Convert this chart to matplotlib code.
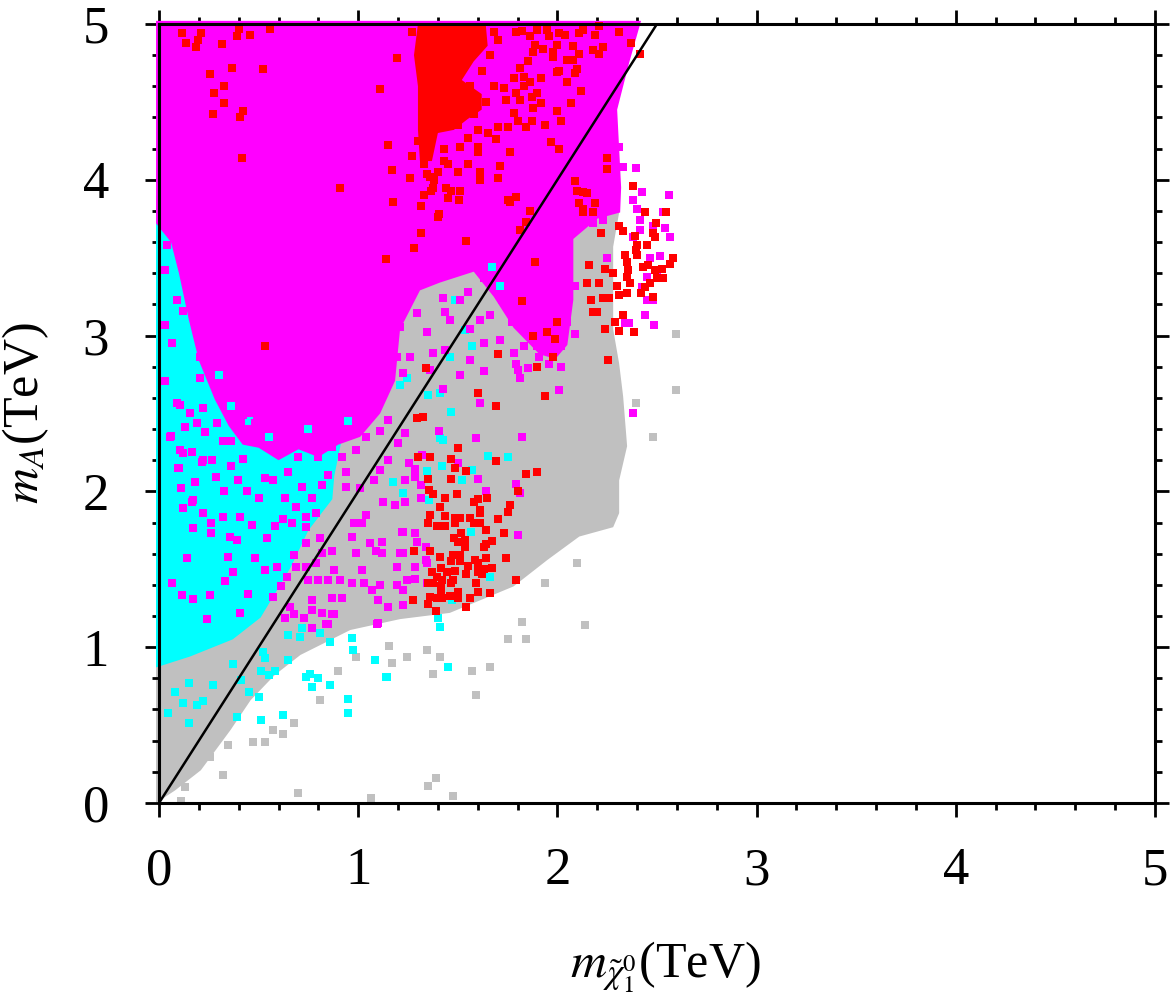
import numpy as np
import matplotlib
matplotlib.use("Agg")
import matplotlib.pyplot as plt

plt.rcParams['font.family'] = ['Liberation Serif', 'DejaVu Serif']
plt.rcParams['mathtext.fontset'] = 'stix'

# reference line m_A = 2 m_chi
line_x = [0.0, 2.5]
line_y = [0.0, 5.0]

# dense regions (outline of the densely covered area, TeV)
gray_region = [(-0.015, 0.0), (0.08, 0.08), (0.21, 0.21), (0.36, 0.47), (0.46, 0.66),
               (0.58, 0.82), (0.71, 0.95), (0.96, 1.11), (1.21, 1.18), (1.46, 1.22),
               (1.78, 1.39), (1.95, 1.56), (2.11, 1.71), (2.28, 1.77), (2.31, 1.86),
               (2.31, 2.07), (2.35, 2.29), (2.33, 2.61), (2.31, 2.82), (2.28, 3.04),
               (2.28, 3.57), (2.31, 3.79), (2.21, 3.87), (1.2, 3.6), (0.5, 3.8),
               (-0.015, 3.9)]
cyan_region = [(-0.015, 3.82), (0.15, 3.8), (0.3, 3.5), (0.45, 3.0), (0.7, 2.85),
               (0.95, 2.75), (1.0, 2.55), (0.92, 2.35), (0.88, 2.1), (0.87, 1.95),
               (0.75, 1.75), (0.66, 1.51), (0.51, 1.19), (0.37, 1.05), (0.156, 0.94),
               (-0.015, 0.87)]
magenta_region = [(-0.015, 5.02), (2.42, 5.02), (2.36, 4.75), (2.30, 4.45), (2.31, 4.20),
                  (2.32, 3.95), (2.315, 3.79), (2.20, 3.75), (2.08, 3.62), (2.08, 3.23),
                  (2.05, 2.94), (1.99, 2.85), (1.91, 2.88), (1.78, 3.05), (1.68, 3.25),
                  (1.58, 3.41), (1.41, 3.34), (1.31, 3.29), (1.21, 3.04),
                  (1.185, 2.71), (1.11, 2.50), (1.01, 2.35), (0.90, 2.30), (0.80, 2.22),
                  (0.70, 2.27), (0.60, 2.20), (0.50, 2.28), (0.42, 2.30), (0.35, 2.42),
                  (0.28, 2.59), (0.20, 2.84), (0.15, 3.10), (0.10, 3.40), (0.06, 3.60),
                  (-0.015, 3.72)]
red_region = [(1.30, 5.0), (1.64, 5.0), (1.65, 4.86), (1.58, 4.76), (1.52, 4.64),
              (1.62, 4.55), (1.62, 4.45), (1.55, 4.39), (1.48, 4.32), (1.40, 4.30),
              (1.37, 4.12), (1.31, 4.12), (1.30, 4.32), (1.30, 4.60), (1.28, 4.80)]

# individual points outside / on top of the dense areas
gray_pts = [(0.70, 0.065), (1.065, 0.03), (1.39, 0.16), (1.35, 0.11), (1.475, 0.045),
            (0.32, 0.18), (0.16, 0.205), (0.13, 0.10), (0.11, 0.01), (0.345, 0.37),
            (0.255, 0.295), (0.47, 0.39), (0.53, 0.39), (0.62, 0.44), (0.57, 0.47),
            (0.68, 0.51), (0.81, 0.66), (0.90, 0.85), (0.99, 0.94), (1.155, 1.01),
            (1.17, 0.90), (1.245, 0.94), (1.375, 0.83), (1.345, 0.98), (1.41, 0.94),
            (1.59, 0.69), (1.57, 0.85), (1.66, 0.87), (2.14, 1.14), (1.82, 1.16),
            (1.84, 1.05), (1.75, 1.05), (1.94, 1.41), (2.10, 1.54), (2.48, 2.35),
            (2.395, 2.57), (2.595, 3.01), (2.595, 2.65)]

cyan_pts = [(0.71, 1.065), (0.86, 1.03), (0.97, 1.06), (0.975, 0.98), (1.085, 0.92),
            (1.145, 0.81), (0.95, 0.67), (0.95, 0.58), (0.86, 0.76), (0.77, 0.745),
            (0.74, 0.81), (0.80, 0.80), (0.76, 0.83), (0.65, 0.92), (0.58, 0.85),
            (0.55, 0.82), (0.51, 0.85), (0.45, 0.71), (0.50, 0.68), (0.51, 0.53),
            (0.39, 0.55), (0.62, 0.565), (0.37, 0.89), (0.41, 0.79), (0.27, 0.76),
            (0.22, 0.655), (0.15, 0.77), (0.15, 0.51), (0.045, 0.58), (0.08, 0.71),
            (0.12, 0.64), (0.19, 0.63), (0.52, 0.97), (0.53, 0.93), (0.65, 1.08),
            (0.72, 1.12), (0.81, 1.09), (1.41, 2.34), (1.65, 2.23), (1.75, 2.22),
            (1.57, 2.14), (1.52, 2.07), (1.41, 1.13), (1.47, 1.30), (1.45, 0.87),
            (1.14, 0.81), (1.465, 2.51), (1.345, 2.13), (1.355, 1.945), (1.565, 1.74),
            (1.66, 1.45), (1.40, 1.19), (1.67, 3.44), (1.71, 3.32), (1.57, 2.93),
            (1.46, 2.86), (1.485, 3.23), (1.535, 3.035), (1.41, 2.63), (1.35, 2.62),
            (1.245, 2.73), (1.21, 2.68), (1.425, 2.33), (1.42, 2.16), (1.175, 2.06),
            (1.225, 1.99), (0.36, 2.55), (0.45, 2.45), (0.30, 2.75), (0.55, 2.35),
            (0.75, 2.40), (0.95, 2.45)]

magenta_pts = [
    # below the dense cyan edge
    (0.165, 1.93), (0.12, 1.89), (0.22, 1.86), (0.26, 1.80), (0.17, 1.765), (0.32, 1.835),
    (0.405, 1.835), (0.465, 1.785), (0.355, 1.71), (0.39, 1.69), (0.26, 1.73), (0.14, 1.57),
    (0.345, 1.58), (0.48, 1.57), (0.37, 1.48), (0.33, 1.425), (0.065, 1.41), (0.115, 1.335),
    (0.17, 1.31), (0.255, 1.335), (0.445, 1.34), (0.405, 1.22), (0.24, 1.18), (0.54, 1.70),
    (0.58, 1.78), (0.62, 1.82), (0.67, 1.80), (0.69, 1.90), (0.74, 1.835), (0.79, 1.86),
    (0.74, 1.77), (0.81, 1.70), (0.74, 1.67), (0.68, 1.59), (0.53, 1.495), (0.59, 1.515),
    (0.64, 1.45), (0.69, 1.515), (0.74, 1.515), (0.79, 1.54), (0.82, 1.605), (0.87, 1.62),
    (0.75, 1.43), (0.80, 1.43), (0.85, 1.43), (0.91, 1.43), (0.61, 1.39), (0.57, 1.32),
    (0.66, 1.26), (0.68, 1.21), (0.63, 1.19), (0.73, 1.19), (0.77, 1.24), (0.77, 1.30),
    (0.87, 1.315), (0.92, 1.315), (0.82, 1.22), (0.87, 1.21), (0.77, 1.12), (0.84, 1.15),
    (0.98, 1.80), (1.02, 1.80), (0.97, 1.71), (1.06, 1.67), (1.12, 1.675), (0.99, 1.605),
    (1.09, 1.62), (1.12, 1.605), (0.88, 1.495), (1.02, 1.495), (1.11, 1.40), (1.03, 1.41),
    (1.07, 1.37), (0.97, 1.41), (1.10, 1.30), (1.15, 1.26), (1.195, 1.40), (1.225, 1.37),
    (1.245, 1.43), (1.285, 1.44), (1.345, 1.41), (1.225, 1.27), (1.095, 1.15), (1.195, 1.515),
    (1.21, 1.605), (1.225, 1.74), (1.285, 1.73), (1.295, 1.675), (1.345, 1.54), (1.285, 1.515),
    (1.04, 1.85), (1.185, 1.91), (1.235, 1.93), (1.125, 1.93),
    # mixed cyan / magenta band
    (0.105, 2.555), (0.22, 2.535), (0.06, 2.355), (0.13, 2.41), (0.19, 2.44), (0.10, 2.15),
    (0.105, 2.265), (0.165, 2.25), (0.215, 2.19), (0.265, 2.20), (0.23, 2.38), (0.29, 2.44),
    (0.355, 2.48), (0.42, 2.49), (0.32, 2.32), (0.36, 2.32), (0.445, 2.355), (0.49, 2.32),
    (0.42, 2.21), (0.36, 2.16), (0.285, 2.09), (0.18, 2.06), (0.11, 2.02), (0.325, 2.00),
    (0.395, 2.07), (0.44, 2.00), (0.50, 1.96), (0.57, 2.07), (0.61, 2.45), (0.56, 2.49),
    (0.48, 2.44), (0.67, 2.375), (0.73, 2.33), (0.65, 2.125), (0.70, 2.22), (0.80, 2.31),
    (0.80, 2.22), (0.87, 2.285), (0.92, 2.22), (0.99, 2.265), (1.04, 2.35), (1.11, 2.39),
    (0.99, 2.39), (0.87, 2.39), (0.80, 2.41), (0.96, 2.50), (1.06, 2.50), (1.15, 2.46),
    (1.20, 2.31), (1.15, 2.20), (1.11, 2.14), (0.94, 2.125), (0.85, 2.105), (0.82, 2.04),
    (0.94, 2.03), (1.01, 2.02), (1.08, 2.07), (0.72, 2.03), (0.77, 1.96), (0.63, 1.96),
    (0.53, 2.085), (1.235, 2.375), (1.255, 2.18), (1.285, 2.09),
    (0.04, 3.58), (0.03, 3.42), (0.09, 3.23), (0.03, 3.07), (0.19, 3.25), (0.12, 3.16),
    (0.205, 3.10), (0.065, 2.95), (0.205, 3.02), (0.305, 3.00), (0.03, 2.71), (0.09, 2.57),
    (0.205, 2.86), (0.205, 2.73), (0.155, 2.50), (0.055, 2.35), (0.12, 2.245), (0.095, 2.15),
    (0.22, 2.20), (0.17, 1.945), (0.405, 2.93),
    (0.66, 2.48), (0.74, 2.59), (0.89, 2.41), (1.04, 2.59), (1.125, 2.67), (1.225, 2.76),
    (1.195, 2.86), (1.16, 2.99), (1.21, 3.055), (1.295, 3.145), (1.345, 3.02), (1.375, 2.89),
    (1.425, 3.24), (1.435, 3.15), (1.26, 2.86), (1.06, 2.78), (0.96, 2.70),
    # right of the line
    (1.405, 2.39), (1.59, 2.34), (1.82, 2.35), (1.79, 2.05), (1.81, 1.99), (1.80, 1.72),
    (1.60, 2.08), (1.64, 2.00), (1.50, 2.18), (1.32, 2.235), (1.285, 2.145), (1.235, 2.07),
    (1.22, 1.74), (1.34, 1.64), (1.225, 1.605), (1.34, 1.56), (1.10, 1.155), (0.85, 1.15),
    (0.88, 1.21), (2.38, 2.50), (1.61, 2.57), (2.01, 2.65), (1.425, 2.66), (1.315, 2.04),
    (1.315, 1.96),
    (2.28, 4.27), (2.31, 4.21), (2.25, 4.13), (2.33, 4.08), (2.395, 4.075), (2.425, 3.92),
    (2.56, 3.90), (2.38, 3.87), (2.40, 3.81), (2.415, 3.74), (2.53, 3.79), (2.54, 3.69),
    (2.565, 3.63), (2.38, 3.63), (2.415, 3.68), (2.48, 3.70), (2.515, 3.51), (2.465, 3.50),
    (2.50, 3.42), (2.45, 3.375), (2.425, 3.31), (2.48, 3.23), (2.45, 3.23), (2.25, 3.50),
    (2.44, 3.13), (2.485, 3.07), (2.36, 3.08), (2.34, 3.08), (2.01, 3.54), (2.09, 3.32),
    (2.05, 3.15), (2.05, 3.09), (2.09, 3.01), (2.02, 2.93), (2.02, 2.80), (1.96, 2.82),
    (1.90, 2.93), (1.91, 2.86), (1.85, 2.79), (1.83, 2.93), (1.78, 2.89), (1.79, 2.82),
    (1.90, 3.055), (1.96, 2.99), (1.98, 3.055), (1.95, 3.12), (2.00, 3.20), (1.95, 3.25),
    (1.98, 3.29), (1.93, 3.31), (1.90, 3.375), (1.96, 3.39), (2.00, 3.37), (1.86, 3.36),
    (1.83, 3.31), (1.76, 3.26), (1.72, 3.23), (1.77, 3.23), (1.83, 3.11), (1.77, 3.09),
    (1.63, 2.95), (1.61, 3.10), (1.55, 3.28), (1.63, 3.37), (1.78, 3.40), (1.83, 3.42),
    (1.91, 3.47), (1.85, 3.50), (1.91, 3.57), (1.96, 3.625), (2.01, 3.68), (2.10, 3.70),
    (2.18, 3.72), (2.23, 3.74), (1.51, 2.75), (1.63, 2.77), (1.81, 2.73), (1.80, 2.78),
    (1.51, 3.23), (1.46, 3.10), (1.56, 3.04), (1.435, 2.91), (1.66, 3.13), (1.71, 2.97),
    (1.36, 2.78), (1.56, 2.84)]

red_pts = [
    (0.115, 4.94), (0.21, 4.94), (0.135, 4.88), (0.195, 4.90), (0.185, 4.85), (0.40, 4.97),
    (0.39, 4.92), (0.455, 4.93), (0.555, 4.97), (0.315, 4.87), (0.365, 4.72), (0.52, 4.71),
    (0.255, 4.68), (0.325, 4.60), (0.275, 4.56), (0.325, 4.49), (0.27, 4.42), (0.42, 4.44),
    (0.405, 4.40), (0.415, 4.14), (0.91, 3.95), (1.11, 4.58), (1.15, 4.22), (0.53, 2.93),
    (1.14, 3.49), (1.28, 3.56), (1.315, 3.66), (1.54, 3.61), (1.175, 3.86), (1.315, 3.83),
    (1.365, 3.93), (1.405, 3.78), (1.75, 3.87), (1.79, 3.89), (1.86, 3.80), (1.84, 3.73),
    (1.81, 3.68), (1.89, 3.47), (1.82, 3.22), (1.70, 2.88), (1.34, 2.79), (1.98, 2.86),
    (1.90, 2.80), (1.94, 2.61), (1.60, 2.63),
    # upper cluster
    (1.195, 4.78), (1.79, 4.95), (1.82, 4.955), (1.86, 4.92), (1.90, 4.96), (1.95, 4.96),
    (1.96, 4.92), (2.01, 4.94), (2.04, 4.93), (2.11, 4.94), (2.13, 4.96), (2.21, 4.99),
    (2.19, 4.93), (2.31, 4.95), (2.37, 4.88), (1.89, 4.865), (1.93, 4.84), (1.88, 4.82),
    (1.98, 4.82), (2.00, 4.865), (2.08, 4.86), (2.11, 4.81), (2.18, 4.83), (2.23, 4.85),
    (2.21, 4.81), (1.98, 4.79), (2.05, 4.77), (2.08, 4.77), (2.01, 4.70), (2.00, 4.69),
    (2.10, 4.71), (2.09, 4.685), (2.05, 4.63), (1.85, 4.76), (1.81, 4.72), (1.78, 4.65),
    (1.83, 4.66), (1.86, 4.63), (1.92, 4.65), (1.90, 4.56), (1.83, 4.60), (1.79, 4.56),
    (1.73, 4.59), (1.68, 4.60), (2.12, 4.57), (2.07, 4.49), (2.00, 4.44), (2.02, 4.38),
    (1.94, 4.35), (1.92, 4.49), (1.88, 4.46), (1.87, 4.53), (1.81, 4.51), (1.78, 4.43),
    (1.80, 4.38), (1.74, 4.51), (1.75, 4.34), (1.70, 4.34), (1.84, 4.34), (1.87, 4.38),
    (1.69, 4.26), (1.65, 4.30), (1.60, 4.32), (1.55, 4.27), (1.60, 4.21), (1.60, 4.18),
    (1.51, 4.21), (1.43, 4.20), (1.43, 4.12), (1.36, 4.02), (1.345, 4.04), (1.17, 4.06),
    (1.26, 4.01), (1.375, 3.95), (1.44, 3.95), (1.465, 3.93), (1.51, 3.93), (1.505, 3.87),
    (1.61, 4.05), (1.61, 4.00), (1.70, 4.01), (1.71, 4.09), (1.76, 4.18), (1.97, 4.24),
    (2.01, 4.20), (1.40, 3.76), (2.10, 3.93), (2.13, 3.92), (2.15, 3.915), (2.11, 3.85),
    (2.13, 3.81), (2.19, 3.85), (2.18, 3.79), (2.09, 3.99), (2.25, 4.14), (2.25, 4.07),
    (2.38, 3.96), (2.44, 3.79), (2.415, 4.81), (1.76, 3.86),
    (1.27, 4.95), (1.68, 4.95), (1.70, 4.90), (1.66, 4.80), (1.62, 4.70), (1.56, 4.60),
    (1.64, 4.50), (1.58, 4.42), (1.50, 4.35), (1.30, 4.25), (1.27, 4.15), (1.33, 4.10),
    (1.40, 4.05), (1.38, 4.00), (1.45, 4.10), (1.50, 4.05), (1.55, 4.10), (1.45, 3.88),
    (1.33, 3.90),
    # far right cluster
    (2.545, 3.79), (2.495, 3.72), (2.31, 3.70), (2.33, 3.67), (2.22, 3.66), (2.39, 3.64),
    (2.48, 3.66), (2.49, 3.63), (2.45, 3.58), (2.40, 3.58), (2.395, 3.55), (2.34, 3.52),
    (2.35, 3.47), (2.40, 3.52), (2.58, 3.50), (2.565, 3.46), (2.43, 3.44), (2.455, 3.45),
    (2.49, 3.42), (2.525, 3.43), (2.53, 3.37), (2.50, 3.37), (2.465, 3.34), (2.44, 3.31),
    (2.42, 3.27), (2.48, 3.25), (2.355, 3.42), (2.35, 3.375), (2.365, 3.34), (2.30, 3.32),
    (2.35, 3.27), (2.31, 3.26), (2.28, 3.40), (2.24, 3.43), (2.16, 3.45), (2.21, 3.34),
    (2.15, 3.34), (2.23, 3.24), (2.26, 3.24), (2.17, 3.23), (2.18, 3.15), (2.20, 3.15),
    (2.33, 3.13), (2.29, 3.09), (2.31, 3.03), (2.385, 3.02), (2.24, 3.04), (2.255, 2.84),
    (2.13, 3.79), (2.00, 3.09), (1.95, 3.02), (1.99, 2.98), (1.88, 3.00),
    # lower cluster
    (1.69, 2.55), (1.295, 2.47), (1.325, 2.48), (1.50, 2.28), (1.30, 2.22), (1.36, 2.22),
    (1.465, 2.21), (1.69, 2.195), (1.485, 2.15), (1.54, 2.13), (1.465, 2.08), (1.35, 2.08),
    (1.84, 2.11), (1.90, 2.125), (1.80, 2.00), (1.645, 1.96), (1.60, 1.95), (1.435, 1.96),
    (1.495, 1.98), (1.355, 2.01), (1.375, 1.98), (1.41, 1.90), (1.58, 1.93), (1.61, 1.88),
    (1.75, 1.87), (1.76, 1.91), (1.61, 1.86), (1.36, 1.85), (1.35, 1.80), (1.435, 1.84),
    (1.485, 1.83), (1.51, 1.83), (1.56, 1.83), (1.58, 1.80), (1.61, 1.80), (1.70, 1.82),
    (1.395, 1.78), (1.435, 1.78), (1.485, 1.80), (1.64, 1.75), (1.73, 1.73), (1.48, 1.70),
    (1.515, 1.73), (1.50, 1.675), (1.535, 1.69), (1.535, 1.64), (1.63, 1.64), (1.67, 1.68),
    (1.64, 1.66), (1.36, 1.62), (1.41, 1.58), (1.28, 1.62), (1.475, 1.59), (1.51, 1.59),
    (1.465, 1.55), (1.51, 1.55), (1.55, 1.52), (1.585, 1.56), (1.60, 1.54), (1.64, 1.57),
    (1.60, 1.51), (1.63, 1.50), (1.67, 1.51), (1.74, 1.57), (1.415, 1.51), (1.37, 1.48),
    (1.395, 1.45), (1.445, 1.48), (1.485, 1.49), (1.54, 1.47), (1.60, 1.48), (1.62, 1.47),
    (1.42, 1.43), (1.475, 1.43), (1.465, 1.41), (1.35, 1.41), (1.375, 1.41), (1.415, 1.39),
    (1.415, 1.355), (1.59, 1.41), (1.60, 1.355), (1.66, 1.35), (1.50, 1.355), (1.50, 1.315),
    (1.46, 1.33), (1.36, 1.32), (1.395, 1.315), (1.42, 1.315), (1.56, 1.315), (1.275, 1.30),
    (1.35, 1.28), (1.54, 1.26), (1.39, 1.23), (1.79, 1.43)]

c_gray = '#c0c0c0'
c_cyan = '#00ffff'
c_magenta = '#ff00ff'
c_red = '#ff0000'

fig = plt.figure(figsize=(11.71, 9.94), dpi=100)
ax = fig.add_axes([0.1358, 0.1922, 0.8505, 0.7837])

def region(pts, color, z):
    p = np.array(pts)
    ax.fill(p[:, 0], p[:, 1], color=color, lw=0, zorder=z, clip_on=False)

def points(pts, color, z):
    p = np.array(pts)
    ax.scatter(p[:, 0], p[:, 1], s=30, marker='s', c=color, linewidths=0,
               zorder=z, clip_on=False)

region(gray_region, c_gray, 1)
points(gray_pts, c_gray, 1.5)
region(cyan_region, c_cyan, 2)
region(magenta_region, c_magenta, 3)
points(cyan_pts, c_cyan, 3.2)
points(magenta_pts, c_magenta, 3.5)
region(red_region, c_red, 4)
points(red_pts, c_red, 4.5)

ax.plot(line_x, line_y, color='black', lw=1.8, zorder=6)

ax.set_xlim(0, 5)
ax.set_ylim(0, 5)
ax.set_xticks(range(6))
ax.set_yticks(range(6))
ax.set_xticks(np.arange(0, 5.01, 0.2), minor=True)
ax.set_yticks(np.arange(0, 5.01, 0.2), minor=True)

for s in ax.spines.values():
    s.set_linewidth(2.2)
    s.set_zorder(7)

ax.tick_params(which='both', direction='out', top=True, right=True, width=2)
ax.tick_params(which='major', length=10, labelsize=38)
ax.tick_params(which='minor', length=5)
ax.tick_params(axis='x', which='major', pad=22)
ax.tick_params(axis='y', which='major', pad=26)

ax.set_xlabel(r'$m_{\tilde{\chi}_1^0}$(TeV)', fontsize=36)
ax.set_ylabel(r'$m_A$(TeV)', fontsize=36)
ax.xaxis.set_label_coords(0.508, -0.175)
ax.yaxis.set_label_coords(-0.108, 0.5)

fig.savefig('out.png', dpi=100)
